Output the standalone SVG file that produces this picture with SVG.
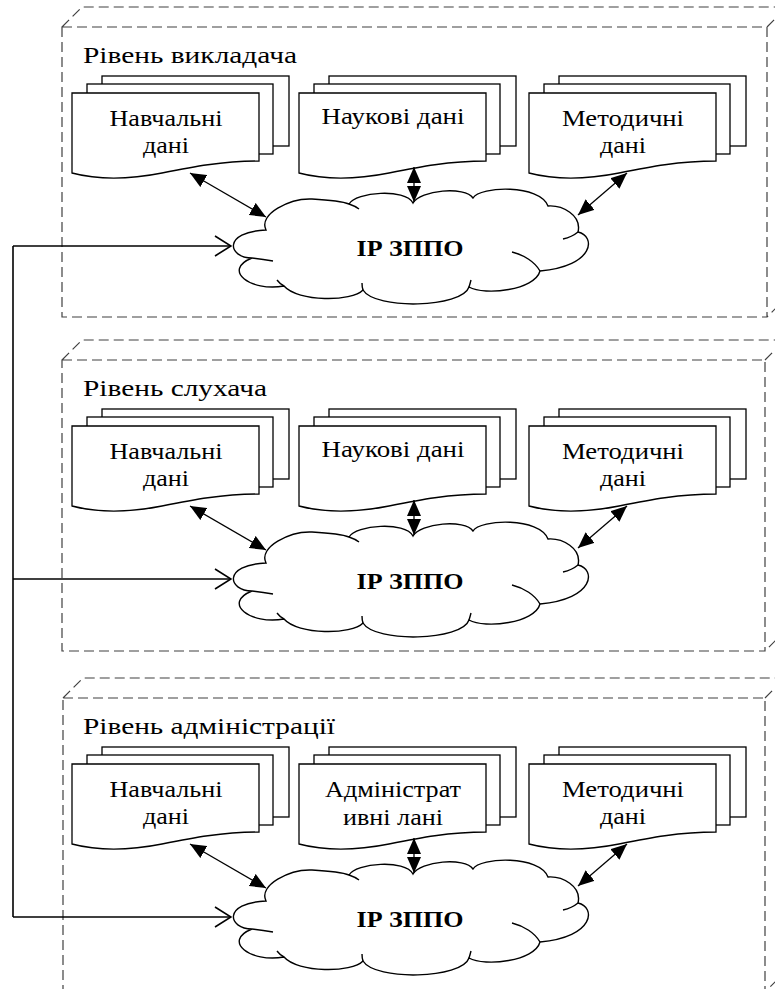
<svg xmlns="http://www.w3.org/2000/svg" xmlns:xlink="http://www.w3.org/1999/xlink" width="775" height="989" viewBox="0 0 775 989" font-family="Liberation Serif, Times New Roman, serif">
<style>
.frame{fill:none;stroke:#404040;stroke-width:1.2;stroke-dasharray:10 5}
.doc{fill:#fff;stroke:#000;stroke-width:1.3}
.cloud{fill:#fff;stroke:#000;stroke-width:1.4}
.tail{fill:none;stroke:#000;stroke-width:1.4}
text{font-size:24px;fill:#000}
.ct{font-weight:bold}
.dbl{fill:none;stroke:#000;stroke-width:1.3;marker-start:url(#ah);marker-end:url(#ah)}
.feed{fill:none;stroke:#000;stroke-width:1.6}
</style>
<defs>
<marker id="ah" viewBox="0 0 16 14" refX="16" refY="7" markerWidth="16" markerHeight="14" markerUnits="userSpaceOnUse" orient="auto-start-reverse"><path d="M0,0 L16,7 L0,14 Z" fill="#000"/></marker>
<marker id="open" viewBox="0 0 18 22" refX="17" refY="11" markerWidth="18" markerHeight="22" markerUnits="userSpaceOnUse" orient="auto"><path d="M1,1 L17,11 L1,21" fill="none" stroke="#000" stroke-width="1.6"/></marker>
<g id="docs">
<rect x="30" y="-17" width="187" height="70" class="doc"/>
<rect x="15" y="-9" width="186" height="70" class="doc"/>
<path d="M0,0 H187 V68 C150,68 120,74 90,80 C60,86 30,88 0,80 Z" class="doc"/>
</g>
<g id="cloudshape">
<path class="cloud" d="M266,230 C258,214 290,198 312,199 C330,200 344,202 349,204 C356,192 405,188 413,203 C420,190 465,186 473,198 C480,186 540,184 548,206 C562,205 582,215 578,232 C596,236 595,266 540,271 C535,290 485,296 469,287 C462,308 375,310 363,290 C352,302 298,302 284,286 C250,292 222,270 252,258 C228,258 222,232 266,230 Z"/>
<path class="tail" d="M349,204 Q355,206 359,209 M252,258 Q262,259 273,261 M284,286 Q280,284 277,280 M363,290 Q362,287 362,283 M469,287 Q470,284 471,280 M540,271 C535,262 524,255 512,252 M578,232 Q572,237 563,239"/>
</g>
</defs>
<rect x="0" y="0" width="775" height="989" fill="#fff"/>

<g id="level1">
<path class="frame" d="M62,27 H767 V317 H62 Z M62,27 L82,7 H787 V297 L767,317 M767,27 L787,7"/>
<text x="83" y="63" textLength="214" lengthAdjust="spacingAndGlyphs">Рівень викладача</text>
</g>
<g id="level2">
<path class="frame" d="M62,360 H765 V651 H62 Z M62,360 L82,340 H785 V631 L765,651 M765,360 L785,340"/>
<text x="83" y="396" textLength="184" lengthAdjust="spacingAndGlyphs">Рівень слухача</text>
</g>
<g id="level3">
<path class="frame" d="M63,698 H765 V992 H63 Z M63,698 L83,678 H785 V972 L765,992 M765,698 L785,678"/>
<text x="83" y="734" textLength="252" lengthAdjust="spacingAndGlyphs">Рівень адміністрації</text>
</g>

<g id="l1-navch" transform="translate(72,93)"><use xlink:href="#docs"/><text text-anchor="middle" x="94" y="33" textLength="113" lengthAdjust="spacingAndGlyphs">Навчальні</text><text text-anchor="middle" x="94" y="60" textLength="46" lengthAdjust="spacingAndGlyphs">дані</text></g>
<g id="l1-nauk" transform="translate(299,93)"><use xlink:href="#docs"/><text text-anchor="middle" x="94" y="31" textLength="143" lengthAdjust="spacingAndGlyphs">Наукові дані</text></g>
<g id="l1-metod" transform="translate(529,93)"><use xlink:href="#docs"/><text text-anchor="middle" x="94" y="33" textLength="122" lengthAdjust="spacingAndGlyphs">Методичні</text><text text-anchor="middle" x="94" y="60" textLength="46" lengthAdjust="spacingAndGlyphs">дані</text></g>
<g id="l1-cloud"><use xlink:href="#cloudshape"/><text class="ct" text-anchor="middle" x="410" y="256" textLength="107" lengthAdjust="spacingAndGlyphs">ІР ЗППО</text></g>

<g id="l2-navch" transform="translate(72,426)"><use xlink:href="#docs"/><text text-anchor="middle" x="94" y="33" textLength="113" lengthAdjust="spacingAndGlyphs">Навчальні</text><text text-anchor="middle" x="94" y="60" textLength="46" lengthAdjust="spacingAndGlyphs">дані</text></g>
<g id="l2-nauk" transform="translate(299,426)"><use xlink:href="#docs"/><text text-anchor="middle" x="94" y="31" textLength="143" lengthAdjust="spacingAndGlyphs">Наукові дані</text></g>
<g id="l2-metod" transform="translate(529,426)"><use xlink:href="#docs"/><text text-anchor="middle" x="94" y="33" textLength="122" lengthAdjust="spacingAndGlyphs">Методичні</text><text text-anchor="middle" x="94" y="60" textLength="46" lengthAdjust="spacingAndGlyphs">дані</text></g>
<g id="l2-cloud" transform="translate(0,333)"><use xlink:href="#cloudshape"/><text class="ct" text-anchor="middle" x="410" y="256" textLength="107" lengthAdjust="spacingAndGlyphs">ІР ЗППО</text></g>

<g id="l3-navch" transform="translate(72,764)"><use xlink:href="#docs"/><text text-anchor="middle" x="94" y="33" textLength="113" lengthAdjust="spacingAndGlyphs">Навчальні</text><text text-anchor="middle" x="94" y="60" textLength="46" lengthAdjust="spacingAndGlyphs">дані</text></g>
<g id="l3-admin" transform="translate(299,764)"><use xlink:href="#docs"/><text text-anchor="middle" x="94" y="33" textLength="136" lengthAdjust="spacingAndGlyphs">Адміністрат</text><text text-anchor="middle" x="94" y="61" textLength="100" lengthAdjust="spacingAndGlyphs">ивні лані</text></g>
<g id="l3-metod" transform="translate(529,764)"><use xlink:href="#docs"/><text text-anchor="middle" x="94" y="33" textLength="122" lengthAdjust="spacingAndGlyphs">Методичні</text><text text-anchor="middle" x="94" y="60" textLength="46" lengthAdjust="spacingAndGlyphs">дані</text></g>
<g id="l3-cloud" transform="translate(0,671)"><use xlink:href="#cloudshape"/><text class="ct" text-anchor="middle" x="410" y="256" textLength="107" lengthAdjust="spacingAndGlyphs">ІР ЗППО</text></g>

<g id="connectors">
<path class="dbl" d="M190,173 L266,217"/>
<path class="dbl" d="M414,167 L414,202"/>
<path class="dbl" d="M627,173 L578,215"/>
<path class="dbl" d="M190,506 L266,550"/>
<path class="dbl" d="M414,500 L414,535"/>
<path class="dbl" d="M627,506 L578,548"/>
<path class="dbl" d="M190,844 L266,888"/>
<path class="dbl" d="M414,838 L414,873"/>
<path class="dbl" d="M627,844 L578,886"/>
<path class="feed" d="M13,246 V917"/>
<path class="feed" d="M13,246 H231" marker-end="url(#open)"/>
<path class="feed" d="M13,579 H231" marker-end="url(#open)"/>
<path class="feed" d="M13,917 H231" marker-end="url(#open)"/>
</g>
</svg>
